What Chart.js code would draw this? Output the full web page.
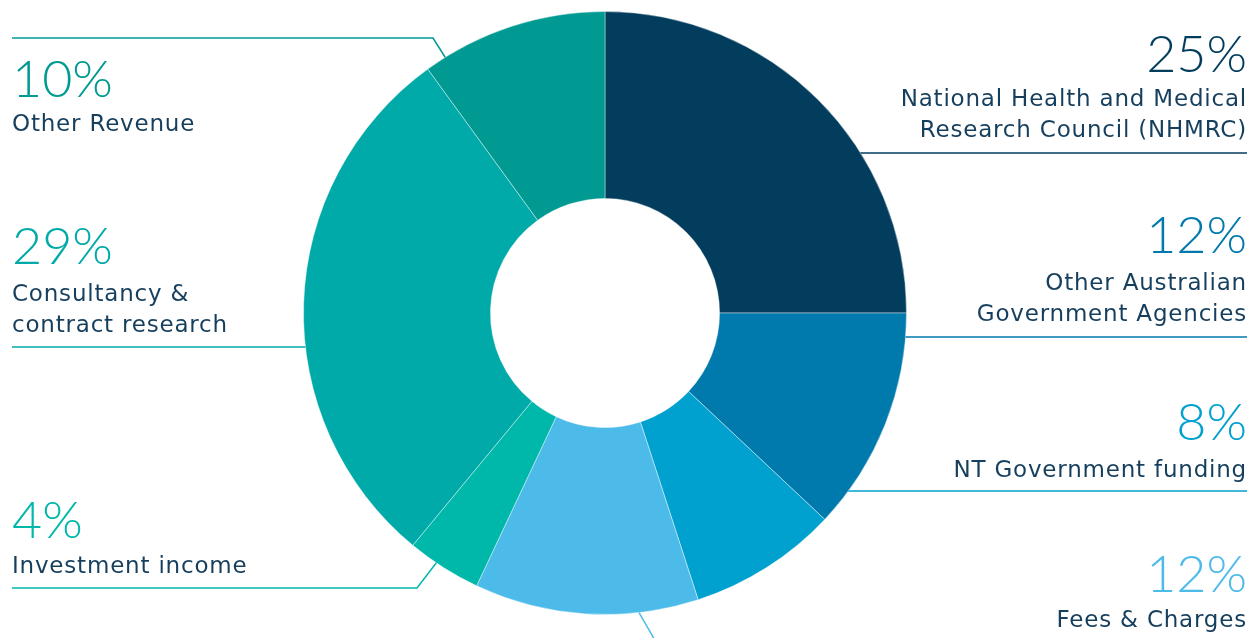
<!DOCTYPE html>
<html>
<head>
<meta charset="utf-8">
<script src="https://cdn.jsdelivr.net/npm/chart.js@4.4.1/dist/chart.umd.min.js"></script>
<style>
  html, body { margin: 0; padding: 0; background: #fff; }
</style>
</head>
<body>
<canvas id="revenueChart" width="1252" height="638"></canvas>
<script>
// Revenue share by source, clockwise from 12 o'clock
const categories = [
    'National Health and Medical Research Council (NHMRC)',
    'Other Australian Government Agencies',
    'NT Government funding',
    'Fees & Charges',
    'Investment income',
    'Consultancy & contract research',
    'Other Revenue'
];
const shares = [25, 12, 8, 12, 4, 29, 10];
const labelLines = [
    ['National Health and Medical', 'Research Council (NHMRC)'],
    ['Other Australian', 'Government Agencies'],
    ['NT Government funding'],
    ['Fees & Charges'],
    ['Investment income'],
    ['Consultancy &', 'contract research'],
    ['Other Revenue']
];
const sliceColours = ['#033d5e', '#0079ad', '#00a1cf', '#4dbbe9', '#00b8a9', '#00aaa8', '#009a93'];

// where each label sits and how its leader line runs
const labelLayout = [
    { side: 'right', pctY: 72, textY: 106, rule: 153 },
    { side: 'right', pctY: 253, textY: 290, rule: 337 },
    { side: 'right', pctY: 440, textY: 477, rule: 491 },
    { side: 'right', pctY: 592, textY: 627, spur: 173.7 },
    { side: 'left', pctY: 538, textY: 573, rule: 588, elbow: 417, angle: 214 },
    { side: 'left', pctY: 264, textY: 301, rule: 347 },
    { side: 'left', pctY: 97, textY: 131, rule: 38, elbow: 433, angle: 328 }
];
const leftX = 12, rightX = 1247, lineGap = 31;
const textColour = '#163f5e';

const calloutPlugin = {
    id: 'callouts',
    beforeDatasetsDraw(chart) {
        const ctx = chart.ctx;
        const arc = chart.getDatasetMeta(0).data[0];
        const cx = arc.x, cy = arc.y, r = arc.outerRadius - 2;
        const edge = deg => {
            const a = deg * Math.PI / 180;
            return [cx + r * Math.sin(a), cy - r * Math.cos(a)];
        };
        ctx.save();
        ctx.lineWidth = 1.5;
        labelLayout.forEach((l, i) => {
            ctx.strokeStyle = sliceColours[i];
            ctx.beginPath();
            if (l.spur !== undefined) {
                const p = edge(l.spur);
                ctx.moveTo(p[0], p[1]);
                ctx.lineTo(p[0] + 40, p[1] + 40 * 1.73);
            } else if (l.elbow !== undefined) {
                const p = edge(l.angle);
                ctx.moveTo(leftX, l.rule);
                ctx.lineTo(l.elbow, l.rule);
                ctx.lineTo(p[0], p[1]);
            } else {
                const dx = Math.sqrt(Math.max(r * r - (l.rule - cy) * (l.rule - cy), 0));
                if (l.side === 'right') {
                    ctx.moveTo(rightX, l.rule);
                    ctx.lineTo(cx + dx, l.rule);
                } else {
                    ctx.moveTo(leftX, l.rule);
                    ctx.lineTo(cx - dx, l.rule);
                }
            }
            ctx.stroke();
        });
        ctx.restore();
    },
    afterDraw(chart) {
        const ctx = chart.ctx;
        ctx.save();
        ctx.textBaseline = 'alphabetic';
        labelLayout.forEach((l, i) => {
            const x = l.side === 'right' ? rightX : leftX;
            ctx.textAlign = l.side === 'right' ? 'right' : 'left';
            ctx.fillStyle = sliceColours[i];
            ctx.letterSpacing = '0px';
            ctx.font = '300 52px Lato';
            ctx.fillText(shares[i] + '%', x, l.pctY);
            ctx.fillStyle = textColour;
            ctx.font = '400 23px "DejaVu Sans"';
            ctx.letterSpacing = '0.8px';
            labelLines[i].forEach((t, j) => ctx.fillText(t, x, l.textY + j * lineGap));
        });
        ctx.restore();
    }
};

const ctx = document.getElementById('revenueChart').getContext('2d');
new Chart(ctx, {
    type: 'doughnut',
    data: {
        labels: categories,
        datasets: [{
            data: shares,
            backgroundColor: sliceColours,
            borderColor: 'rgba(255, 255, 255, 0.4)',
            borderWidth: 1
        }]
    },
    options: {
        responsive: false,
        animation: false,
        cutout: '38%',
        layout: {
            padding: { left: 303, right: 345, top: 11, bottom: 23 }
        },
        plugins: {
            legend: { display: false },
            tooltip: { enabled: false }
        }
    },
    plugins: [calloutPlugin]
});
</script>
</body>
</html>
